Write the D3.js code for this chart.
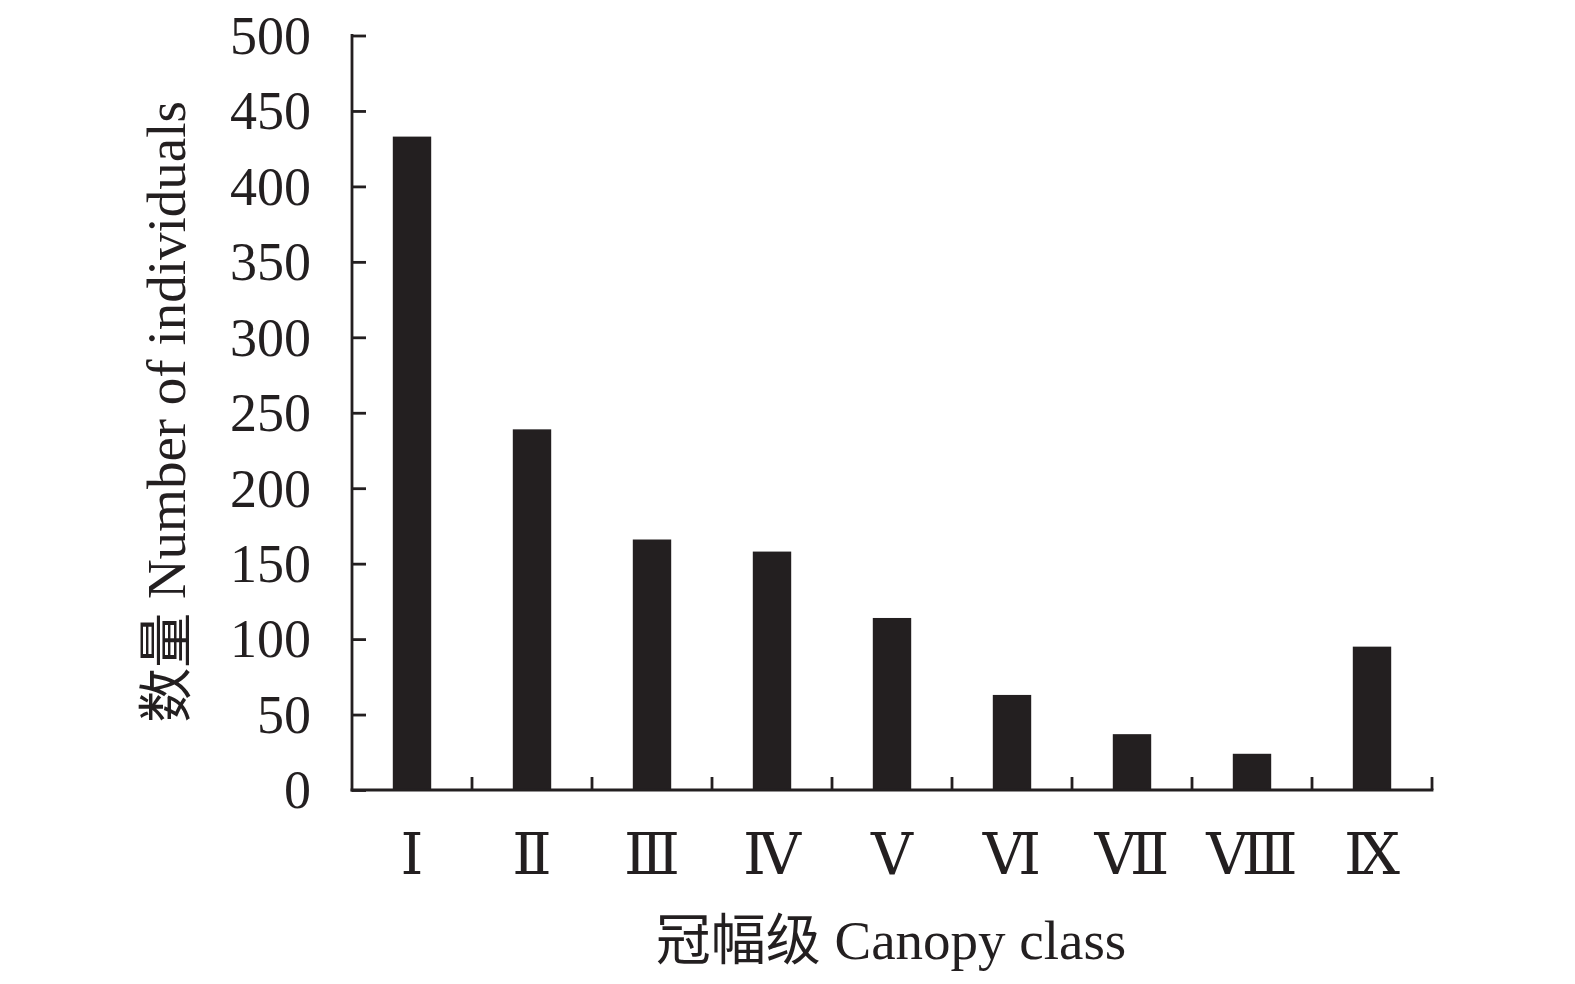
<!DOCTYPE html>
<html><head><meta charset="utf-8">
<script src="https://cdn.jsdelivr.net/npm/d3@7"></script>
<style>body{margin:0;background:#fff}svg{display:block}</style>
</head><body>
<script>
const categories = ["Ⅰ","Ⅱ","Ⅲ","Ⅳ","Ⅴ","Ⅵ","Ⅶ","Ⅷ","Ⅸ"];
const values = [433, 239, 166, 158, 114, 63, 37, 24, 95];
const yTicks = [0,50,100,150,200,250,300,350,400,450,500];
const yLabel = "数量 Number of individuals";
const xLabel = "冠幅级 Canopy class";

(function(){
const W = 1575, H = 984;
const mLeft = 352, mRight = 1432, mTop = 35.5, mBottom = 790;
const ink = "#231f20";
const font = "'Liberation Serif','Times New Roman','Noto Sans CJK SC',serif";
const numFont = "'DejaVu Serif','Liberation Serif',serif";

const svg = d3.select("body").append("svg").attr("width", W).attr("height", H);
const x = d3.scaleBand().domain(categories).range([mLeft, mRight]).paddingInner(0.68).paddingOuter(0.34);
const y = d3.scaleLinear().domain([0, 500]).range([mBottom, mTop]);

svg.append("g").selectAll("rect").data(values).join("rect")
  .attr("x", (d,i) => x(categories[i]))
  .attr("width", x.bandwidth())
  .attr("y", d => y(d))
  .attr("height", d => y(0) - y(d))
  .attr("fill", ink);

// y axis
const ya = svg.append("g").attr("transform", `translate(${mLeft},0)`)
  .call(d3.axisRight(y).tickValues(yTicks).tickSize(14).tickFormat(""));
ya.select(".domain").remove();
ya.selectAll("line").attr("stroke", ink).attr("stroke-width", 2.8);
svg.append("line").attr("x1", mLeft).attr("x2", mLeft).attr("y1", mTop - 1.4).attr("y2", mBottom + 1.4)
  .attr("stroke", ink).attr("stroke-width", 2.8);
svg.append("g").selectAll("text").data(yTicks).join("text")
  .attr("x", 311).attr("y", d => y(d)).attr("dy", "0.34em")
  .attr("text-anchor", "end").attr("font-family", font).attr("font-size", 54).attr("fill", ink)
  .text(d => d);

// x axis
const xTickPos = d3.range(categories.length).map(i => mLeft + (i + 1) * (mRight - mLeft) / categories.length);
svg.append("g").selectAll("line").data(xTickPos).join("line")
  .attr("x1", d => d).attr("x2", d => d).attr("y1", mBottom).attr("y2", mBottom - 13)
  .attr("stroke", ink).attr("stroke-width", 2.8);
svg.append("line").attr("x1", mLeft - 1.4).attr("x2", mRight + 1.4).attr("y1", mBottom).attr("y2", mBottom)
  .attr("stroke", ink).attr("stroke-width", 2.8);
svg.append("g").selectAll("text").data(categories).join("text")
  .attr("x", d => x(d) + x.bandwidth() / 2).attr("y", 874)
  .attr("text-anchor", "middle").attr("font-family", numFont).attr("font-size", 58).attr("fill", ink)
  .text(d => d);

svg.append("text").attr("transform", `translate(185,412) rotate(-90)`)
  .attr("text-anchor", "middle").attr("font-family", font).attr("font-size", 55).attr("fill", ink)
  .text(yLabel);
svg.append("text").attr("x", 891).attr("y", 959)
  .attr("text-anchor", "middle").attr("font-family", font).attr("font-size", 55).attr("fill", ink)
  .text(xLabel);
})();
</script>
</body></html>
